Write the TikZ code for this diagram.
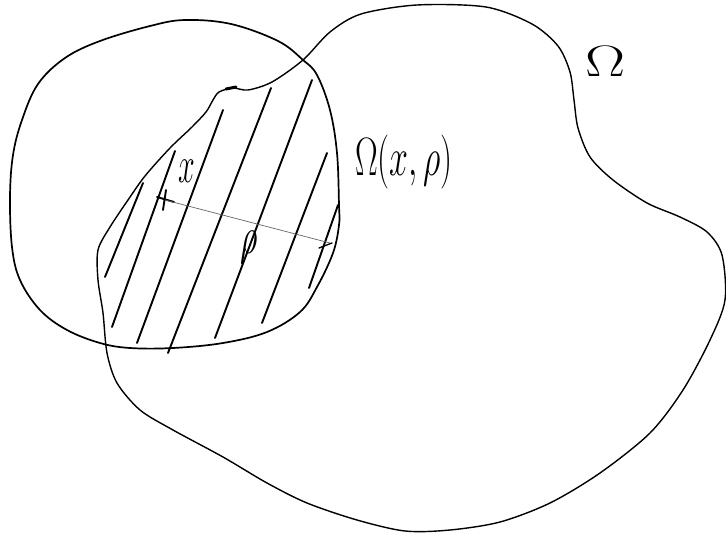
\RequirePackage{fix-cm}
\documentclass[tikz,border=0pt]{standalone}
\usepackage{graphicx}
\begin{document}
\begin{tikzpicture}[x=1pt,y=-1pt,
  ballline/.style={line width=1.7pt,line join=round},
  domline/.style={line width=1.4pt,line join=round},
  hatchline/.style={line width=1.9pt,line cap=round},
  radline/.style={line width=0.7pt,black!60},
  lbl/.style={inner sep=0pt,font=\fontsize{40}{48}\selectfont}]
\useasboundingbox (0,0) rectangle (726,535);
\fill[white] (0,0) rectangle (726,535);
% ball
\draw[ballline] plot[smooth cycle,tension=0.6] coordinates {
 (185,20) (231,24) (278,41) (303,60) (317,75) (330,110) (337,153) (339,205)
 (339,225) (333,253) (317,287) (300,312) (267,332) (223,343) (173,348)
 (130,348) (100,343) (67,330) (40,310) (20,280) (12,247) (10,197) (13,155)
 (22,120) (38,84) (65,58) (100,41) (150,26)};
% domain Omega
\draw[domline] plot[smooth cycle,tension=0.5] coordinates {
 (303,60) (330,32) (361,14) (417,5) (486,7) (532,24) (558,46) (570,72)
 (574,100) (578,128) (590,157) (613,180) (647,203) (680,217) (707,232)
 (722,255) (725,300) (710,340) (683,390) (650,433) (600,473) (550,503)
 (500,522) (450,530) (405,531) (357,520) (307,503) (267,483) (223,457)
 (173,430) (140,410) (117,383) (107,353) (103,313) (98,280) (98,250)
 (110,227) (128,200) (145,176) (170,148) (192,127) (206,112) (213,100)
 (219,92) (233,88) (248,90) (272,82)};
% ink blob
\draw[line width=3pt,line cap=round] (226,89) -- (236,87);
% hatching
\draw[hatchline] (143,183) -- (105,277);
\draw[hatchline] (175,151) -- (112,327);
\draw[hatchline] (223,110) -- (137,343);
\draw[hatchline] (271,88) -- (168,353);
\draw[hatchline] (312,80) -- (215,338);
\draw[hatchline] (327,153) -- (262,323);
\draw[hatchline] (338,205) -- (309,288);
% centre x and radius
\coordinate (cx) at (165,200);
\coordinate (rend) at (330,243);
\draw[line width=1.9pt,line cap=round] (157,197) -- (174,202) (166,190) -- (163,210);
\draw[radline] (cx) -- (rend);
\draw[line width=1.3pt,line cap=round] (319,248) -- (332,243);
% labels
\node[lbl,anchor=base west] (lx) at (178,182) {\scalebox{0.75}[1.3]{$x$}};
\node[lbl,anchor=base west] (lrho) at (240,253) {\scalebox{0.85}[1.3]{$\rho$}};
\node[lbl,anchor=base west] (lball) at (355,175) {\scalebox{0.85}[1.35]{$\Omega(x,\rho)$}};
\node[lbl,anchor=base west] (lom) at (585,77) {\scalebox{1.5}[1.1]{$\Omega$}};
\end{tikzpicture}
\end{document}
